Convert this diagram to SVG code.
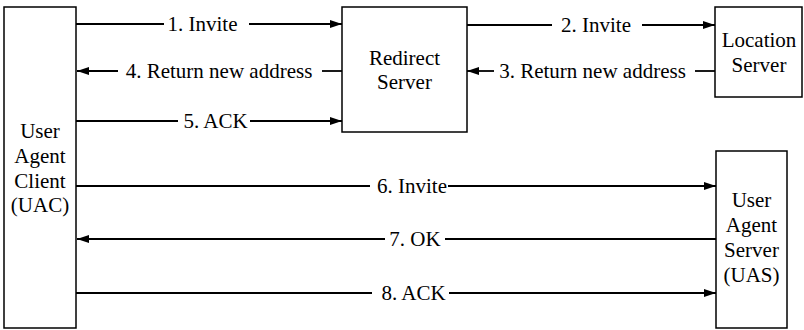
<svg xmlns="http://www.w3.org/2000/svg" width="804" height="330" viewBox="0 0 804 330" font-family="'Liberation Serif', serif" font-size="21">
<style>
.box{fill:#fff;stroke:#000;stroke-width:1.5}
.ln{stroke:#000;stroke-width:1.8;fill:none}
</style>
<defs>
<marker id="ah" viewBox="0 0 12 8" refX="12" refY="4" markerWidth="12" markerHeight="8" markerUnits="userSpaceOnUse" orient="auto">
<path d="M0,0 L12,4 L0,8 Z" fill="#000"/>
</marker>
</defs>
<rect width="804" height="330" fill="#fff"/>
<g id="uac"><rect class="box" x="4" y="7" width="72" height="321"/>
<text font-family="'Liberation Serif'" font-size="21" text-anchor="middle" x="40" y="138">User</text>
<text font-family="'Liberation Serif'" font-size="21" text-anchor="middle" x="40" y="163">Agent</text>
<text font-family="'Liberation Serif'" font-size="21" text-anchor="middle" x="40" y="188">Client</text>
<text font-family="'Liberation Serif'" font-size="21" text-anchor="middle" x="40" y="212">(UAC)</text></g>
<g id="redirect"><rect class="box" x="342" y="7" width="125" height="125"/>
<text font-family="'Liberation Serif'" font-size="21" text-anchor="middle" x="404.5" y="65">Redirect</text>
<text font-family="'Liberation Serif'" font-size="21" text-anchor="middle" x="404.5" y="89">Server</text></g>
<g id="location"><rect class="box" x="715" y="7" width="87" height="90"/>
<text font-family="'Liberation Serif'" font-size="21" text-anchor="middle" x="759" y="47">Location</text>
<text font-family="'Liberation Serif'" font-size="21" text-anchor="middle" x="759" y="72">Server</text></g>
<g id="uas"><rect class="box" x="716" y="151" width="71" height="177"/>
<text font-family="'Liberation Serif'" font-size="21" text-anchor="middle" x="751.5" y="207">User</text>
<text font-family="'Liberation Serif'" font-size="21" text-anchor="middle" x="751.5" y="232">Agent</text>
<text font-family="'Liberation Serif'" font-size="21" text-anchor="middle" x="751.5" y="257">Server</text>
<text font-family="'Liberation Serif'" font-size="21" text-anchor="middle" x="751.5" y="282">(UAS)</text></g>
<g id="connectors">
<line class="ln" x1="76" y1="24" x2="164" y2="24"/><line class="ln" x1="249" y1="24" x2="342" y2="24" marker-end="url(#ah)"/>
<text font-family="'Liberation Serif'" font-size="21" text-anchor="middle" x="202.5" y="31">1. Invite</text>
<line class="ln" x1="342" y1="71" x2="322" y2="71"/><line class="ln" x1="118" y1="71" x2="77" y2="71" marker-end="url(#ah)"/>
<text font-family="'Liberation Serif'" font-size="21" text-anchor="middle" x="219" y="78">4. Return new address</text>
<line class="ln" x1="76" y1="121" x2="178" y2="121"/><line class="ln" x1="250" y1="121" x2="342" y2="121" marker-end="url(#ah)"/>
<text font-family="'Liberation Serif'" font-size="21" text-anchor="middle" x="215.5" y="128">5. ACK</text>
<line class="ln" x1="467" y1="25" x2="552" y2="25"/><line class="ln" x1="642" y1="25" x2="715" y2="25" marker-end="url(#ah)"/>
<text font-family="'Liberation Serif'" font-size="21" text-anchor="middle" x="596" y="32">2. Invite</text>
<line class="ln" x1="715" y1="71" x2="695" y2="71"/><line class="ln" x1="494" y1="71" x2="467" y2="71" marker-end="url(#ah)"/>
<text font-family="'Liberation Serif'" font-size="21" text-anchor="middle" x="592.5" y="78">3. Return new address</text>
<line class="ln" x1="76" y1="186" x2="370" y2="186"/><line class="ln" x1="448" y1="186" x2="716" y2="186" marker-end="url(#ah)"/>
<text font-family="'Liberation Serif'" font-size="21" text-anchor="middle" x="412" y="193">6. Invite</text>
<line class="ln" x1="716" y1="239" x2="445" y2="239"/><line class="ln" x1="385" y1="239" x2="77" y2="239" marker-end="url(#ah)"/>
<text font-family="'Liberation Serif'" font-size="21" text-anchor="middle" x="415" y="246">7. OK</text>
<line class="ln" x1="76" y1="293" x2="372" y2="293"/><line class="ln" x1="449" y1="293" x2="716" y2="293" marker-end="url(#ah)"/>
<text font-family="'Liberation Serif'" font-size="21" text-anchor="middle" x="413.5" y="300">8. ACK</text>
</g>
</svg>
